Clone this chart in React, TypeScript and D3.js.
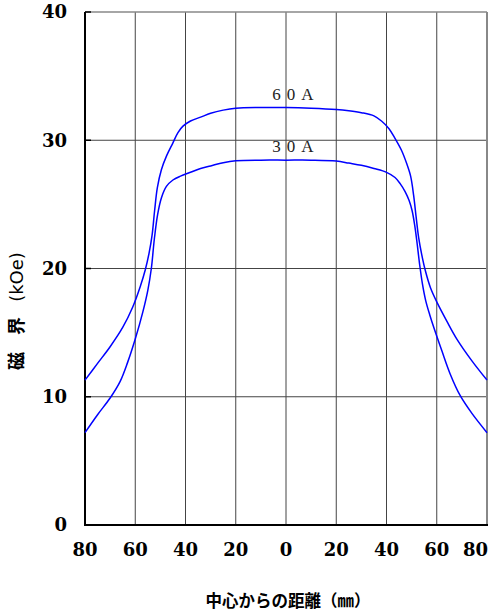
import React from "react";
import * as d3 from "d3";

const xTicks = [-80, -60, -40, -20, 0, 20, 40, 60, 80];
const yTicks = [0, 10, 20, 30, 40];

const series60A: [number, number][] = [
  [-80, 11.3], [-75, 12.6], [-70, 13.9], [-65, 15.4], [-61, 17.0], [-58, 18.6], [-56, 19.9],
  [-54.5, 21.2], [-53.3, 22.6], [-52.3, 24.5], [-51.2, 26.3], [-49.6, 27.7], [-47.5, 28.8],
  [-45, 29.8], [-43, 30.6], [-41, 31.1], [-38, 31.5], [-34, 31.8], [-30, 32.1], [-25, 32.35],
  [-20, 32.5], [-10, 32.55], [0, 32.55], [10, 32.5], [20, 32.4], [25, 32.3], [30, 32.15],
  [35, 31.9], [38, 31.5], [41, 30.9], [43.5, 30.1], [46, 29.2], [48, 28.2], [49.6, 27.2],
  [50.8, 25.7], [51.8, 24.0], [52.8, 22.4], [54, 21.1], [55.5, 19.8], [57.5, 18.5], [60, 17.4],
  [64, 15.9], [68, 14.5], [74, 12.8], [80, 11.3],
];

const series30A: [number, number][] = [
  [-80, 7.2], [-75, 8.6], [-70, 9.9], [-66, 11.2], [-63, 12.7], [-60, 14.5], [-57, 16.6],
  [-55, 18.3], [-53.6, 20.0], [-52.4, 22.3], [-51.1, 24.2], [-49.6, 25.5], [-47.6, 26.4],
  [-45, 26.9], [-42, 27.2], [-38, 27.5], [-34, 27.8], [-30, 28.0], [-25, 28.25], [-20, 28.4],
  [-10, 28.45], [0, 28.45], [10, 28.45], [20, 28.38], [25, 28.22], [30, 28.05], [35, 27.8],
  [40, 27.5], [43.4, 27.1], [45.5, 26.6], [47.4, 26.0], [49, 25.3], [50.2, 24.5], [51.2, 23.4],
  [52.1, 22.1], [53.2, 20.3], [54.3, 18.8], [55.6, 17.5], [57.2, 16.4], [59, 15.3], [62, 13.6],
  [65.3, 11.8], [69.3, 10.1], [74, 8.7], [80, 7.2],
];

const labels = [
  { text: "60A", x: -5.5, y: 32.55 },
  { text: "30A", x: -5.5, y: 28.45 },
];

export default function App() {
  const W = 497, H = 615;
  const L = 85, R = 487, T = 12, B = 525;
  const x = d3.scaleLinear().domain([-80, 80]).range([L, R]);
  const y = d3.scaleLinear().domain([0, 40]).range([B, T]);
  const line = d3.line<[number, number]>().x(d => x(d[0])).y(d => y(d[1]))
    .curve(d3.curveCatmullRom.alpha(0.5));
  const serif = "'Liberation Serif', 'DejaVu Serif', serif";
  const tickFont = "'DejaVu Serif', serif";
  const cjk = "'Noto Sans CJK JP', sans-serif";
  return (
    <svg width={W} height={H} style={{ position: "absolute", left: 0, top: 0, background: "#fff" }}>
      {xTicks.slice(1, -1).map(t => (
        <line key={"gx" + t} x1={x(t)} x2={x(t)} y1={T} y2={B} stroke="#444" strokeWidth={1} />
      ))}
      {yTicks.slice(1, -1).map(t => (
        <line key={"gy" + t} x1={L} x2={R} y1={y(t)} y2={y(t)} stroke="#444" strokeWidth={1} />
      ))}
      <line x1={L} x2={R} y1={T} y2={T} stroke="#888" strokeWidth={1.5} />
      <line x1={R} x2={R} y1={T} y2={B} stroke="#888" strokeWidth={2} />
      <line x1={L} x2={L} y1={T} y2={B + 1} stroke="#000" strokeWidth={2} />
      <line x1={L} x2={R + 1} y1={B} y2={B} stroke="#000" strokeWidth={2} />
      {yTicks.map(t => (
        <line key={"ty" + t} x1={L} x2={L + 6} y1={y(t)} y2={y(t)} stroke="#000" strokeWidth={1.5} />
      ))}
      <path d={line(series60A) || ""} fill="none" stroke="#0000ff" strokeWidth={1.5} />
      <path d={line(series30A) || ""} fill="none" stroke="#0000ff" strokeWidth={1.5} />
      {labels.map(l => (
        <text key={l.text} x={x(l.x)} y={y(l.y) - 8} fontFamily={serif} fontSize={17}
          letterSpacing={6} fill="#222">{l.text}</text>
      ))}
      {yTicks.map(t => (
        <text key={"ly" + t} x={L - 18} y={y(t)} dy="0.35em" textAnchor="end"
          fontFamily={tickFont} fontWeight="bold" fontSize={18} fill="#000">{t}</text>
      ))}
      {xTicks.map((t, i) => {
        const last = i === xTicks.length - 1;
        return (
          <text key={"lx" + t} x={last ? R + 1 : x(t)} y={B + 25} dy="0.35em"
            textAnchor={last ? "end" : "middle"}
            fontFamily={tickFont} fontWeight="bold" fontSize={18} fill="#000">{Math.abs(t)}</text>
        );
      })}
      <g transform="translate(17,0)">
        <text transform="translate(0,361) rotate(-90)" textAnchor="middle" dy="0.35em"
          fontFamily={cjk} fontWeight="bold" fontSize={18} fill="#000">磁</text>
        <text transform="translate(0,326) rotate(-90)" textAnchor="middle" dy="0.35em"
          fontFamily={cjk} fontWeight="bold" fontSize={18} fill="#000">界</text>
        <text transform="translate(0,277) rotate(-90)" textAnchor="middle" dy="0.35em"
          fontFamily="'DejaVu Sans', sans-serif" fontSize={18} fill="#000">(kOe)</text>
      </g>
      <text x={288} y={601} textAnchor="middle" dy="0.35em" fontFamily={cjk} fontWeight="bold"
        fontSize={16.5} fill="#000">中心からの距離（㎜）</text>
    </svg>
  );
}
